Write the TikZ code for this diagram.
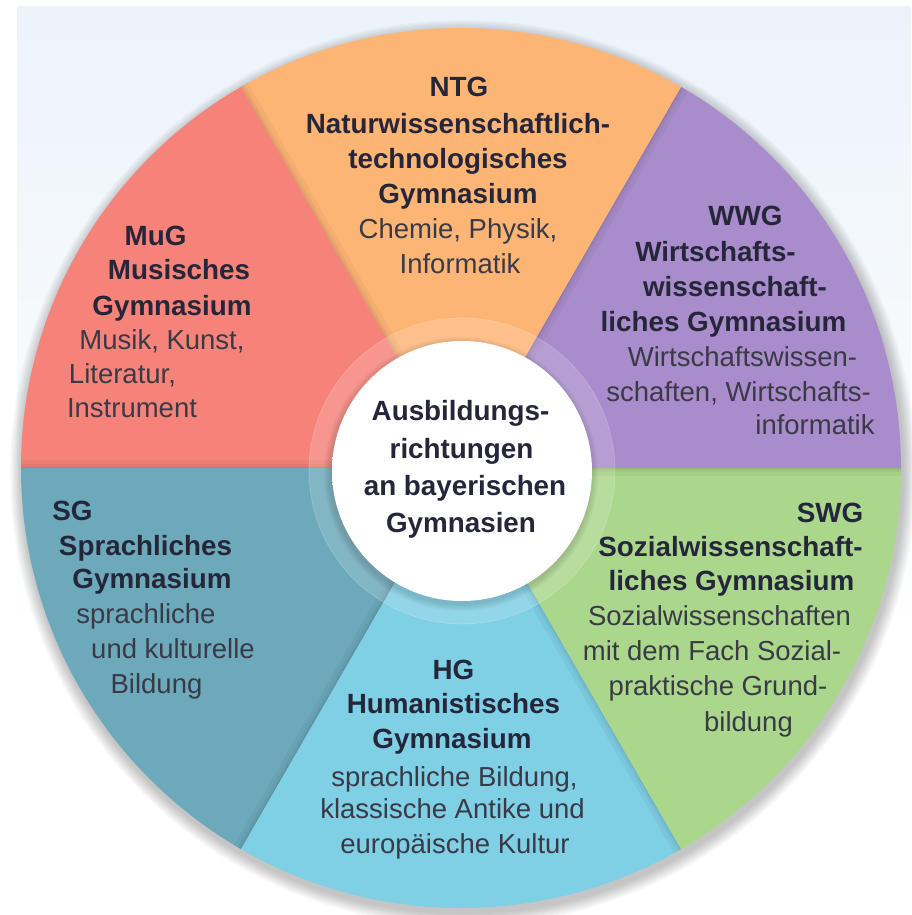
\documentclass[tikz,border=0pt]{standalone}
\usepackage{fontspec}
\setmainfont{Liberation Sans}
\usetikzlibrary{calc}
\definecolor{cMuG}{HTML}{F6837A}
\definecolor{cNTG}{HTML}{FDB576}
\definecolor{cWWG}{HTML}{A98CCB}
\definecolor{cSWG}{HTML}{AAD78C}
\definecolor{cHG}{HTML}{7FCFE5}
\definecolor{cSG}{HTML}{6CA9BB}
\definecolor{bgtop}{HTML}{E2EEF6}
\definecolor{bgmid}{HTML}{EDF4FA}
\definecolor{txtb}{HTML}{26263A}
\definecolor{txtr}{HTML}{3A3A46}
\definecolor{ctredge}{HTML}{DCE1E7}
\pgfdeclareverticalshading{bgshade}{100bp}{color(0bp)=(white); color(40bp)=(white); color(72bp)=(bgmid); color(100bp)=(bgtop)}
\pgfdeclareradialshading{ctrshade}{\pgfpoint{0bp}{0bp}}{color(0bp)=(white); color(36bp)=(white); color(50bp)=(ctredge)}
\newcommand\fansector[3]{%
  \begin{scope}
    \clip (C) -- ($(C)+(-#2:700)$) -- ($(C)+(-#2/2-#3/2:700)$) -- ($(C)+(-#3:700)$) -- cycle;
    \fill[#1] (C) circle[radius=445pt];
    \draw[black, opacity=0.035, line width=16pt] (C) -- ($(C)+(-#3:460)$);
    \draw[black, opacity=0.04, line width=8pt] (C) -- ($(C)+(-#3:460)$);
    \draw[black, opacity=0.05, line width=3pt] (C) -- ($(C)+(-#3:460)$);
  \end{scope}}
\begin{document}
\begin{tikzpicture}[x=1pt,y=-1pt,
  hd/.style={font=\fontsize{27.8}{33}\selectfont\bfseries, text=txtb, inner sep=0pt, anchor=base},
  tx/.style={font=\fontsize{27.5}{33}\selectfont, text=txtr, inner sep=0pt, anchor=base}]
\useasboundingbox (0,0) rectangle (911,915);
\fill[white] (0,0) rectangle (911,915);
\shade[shading=bgshade] (17,7) rectangle (911,915);
\coordinate (C) at (461,468);
\coordinate (Cc) at (462,471);
% outer soft shadow
\foreach \k in {1,...,10}{
  \pgfmathsetmacro\rr{440+\k*1.3}
  \fill[black, opacity=0.025] ($(C)+(2,5)$) circle[radius=\rr pt];
}
% sectors
\begin{scope}
  \clip (C) circle[radius=440pt];
  \fansector{cWWG}{0}{60}
  \fansector{cNTG}{60}{120}
  \fansector{cMuG}{120}{180}
  \fansector{cSG}{180}{240}
  \fansector{cHG}{240}{300}
  \fansector{cSWG}{300}{360}
\end{scope}
% translucent ring and centre disc
\fill[white, opacity=0.16] (Cc) circle[radius=153pt];
\draw[white, opacity=0.18, line width=0.8pt] (Cc) circle[radius=153pt];
\foreach \k in {1,...,6}{
  \pgfmathsetmacro\rr{130+\k*1.2}
  \fill[black, opacity=0.025] ($(Cc)+(-1,3)$) circle[radius=\rr pt];
}
\shade[shading=ctrshade] (Cc) circle[radius=130pt];
% centre text
\node[hd] (c1) at (460.5,420) {Ausbildungs-};
\node[hd] (c2) at (461.5,458) {richtungen};
\node[hd] (c3) at (465,495) {an bayerischen};
\node[hd] (c4) at (461,532) {Gymnasien};
% NTG
\node[hd] (n1) at (459,97) {NTG};
\node[hd] (n2) at (458,133) {Naturwissenschaftlich-};
\node[hd] (n3) at (458,168) {technologisches};
\node[hd] (n4) at (458,203) {Gymnasium};
\node[tx] (n5) at (458,238) {Chemie, Physik,};
\node[tx] (n6) at (460,273) {Informatik};
% MuG
\node[hd] (m1) at (155.5,245) {MuG};
\node[hd] (m2) at (179,279) {Musisches};
\node[hd] (m3) at (172,315) {Gymnasium};
\node[tx] (m4) at (162,349) {Musik, Kunst,};
\node[tx] (m5) at (122.5,383) {Literatur,};
\node[tx] (m6) at (132,417) {Instrument};
% WWG
\node[hd] (w1) at (745.5,225) {WWG};
\node[hd] (w2) at (715.5,261) {Wirtschafts-};
\node[hd] (w3) at (735,296) {wissenschaft-};
\node[hd] (w4) at (723.5,331) {liches Gymnasium};
\node[tx] (w5) at (742.5,366) {Wirtschaftswissen-};
\node[tx] (w6) at (738.5,401) {schaften, Wirtschafts-};
\node[tx] (w7) at (815,434) {informatik};
% SG
\node[hd] (s1) at (72.5,520) {SG};
\node[hd] (s2) at (145.5,555) {Sprachliches};
\node[hd] (s3) at (152,588) {Gymnasium};
\node[tx] (s4) at (146,623) {sprachliche};
\node[tx] (s5) at (173,658) {und kulturelle};
\node[tx] (s6) at (156.5,693) {Bildung};
% SWG
\node[hd] (z1) at (830,522) {SWG};
\node[hd] (z2) at (730.5,556) {Sozialwissenschaft-};
\node[hd] (z3) at (731.5,590) {liches Gymnasium};
\node[tx] (z4) at (719.5,625) {Sozialwissenschaften};
\node[tx] (z5) at (712,660) {mit dem Fach Sozial-};
\node[tx] (z6) at (718,695) {praktische Grund-};
\node[tx] (z7) at (748.5,731) {bildung};
% HG
\node[hd] (h1) at (453.5,679) {HG};
\node[hd] (h2) at (453.5,713) {Humanistisches};
\node[hd] (h3) at (452,748) {Gymnasium};
\node[tx] (h4) at (454.5,786) {sprachliche Bildung,};
\node[tx] (h5) at (452.5,818) {klassische Antike und};
\node[tx] (h6) at (455,853) {europäische Kultur};
\end{tikzpicture}
\end{document}
